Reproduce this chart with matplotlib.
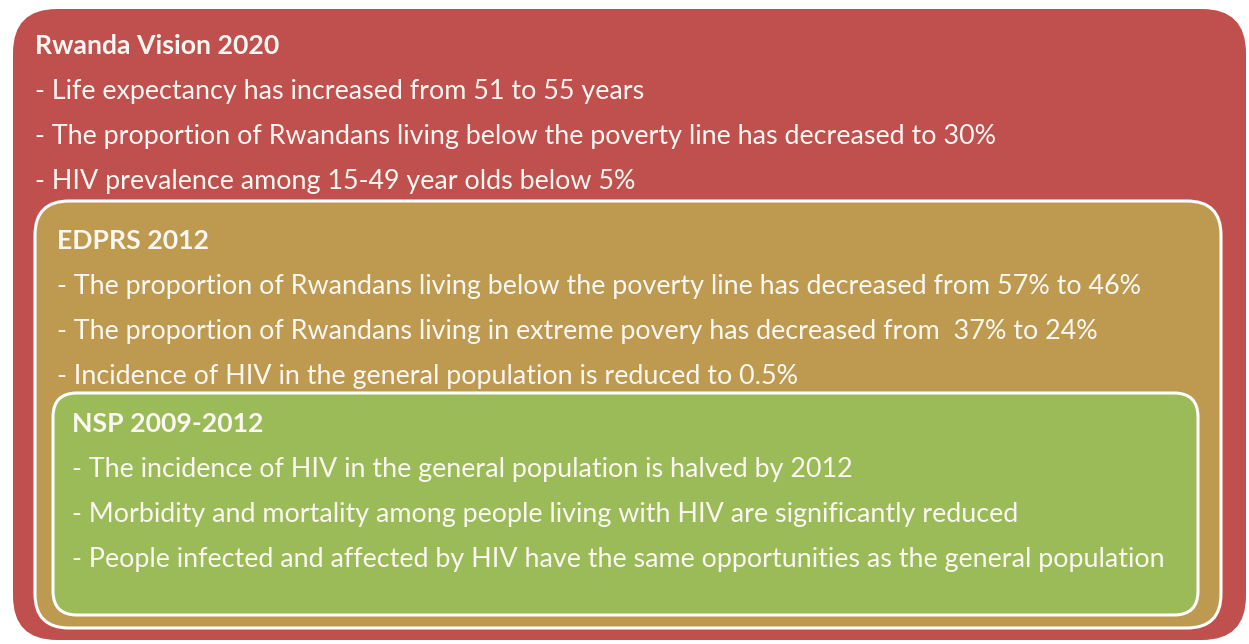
import matplotlib.pyplot as plt
from matplotlib.patches import FancyBboxPatch

# Text content of the three nested goal boxes
vision_title = "Rwanda Vision 2020"
vision_lines = [
    "- Life expectancy has increased from 51 to 55 years",
    "- The proportion of Rwandans living below the poverty line has decreased to 30%",
    "- HIV prevalence among 15-49 year olds below 5%",
]
edprs_title = "EDPRS 2012"
edprs_lines = [
    "- The proportion of Rwandans living below the poverty line has decreased from 57% to 46%",
    "- The proportion of Rwandans living in extreme povery has decreased from  37% to 24%",
    "- Incidence of HIV in the general population is reduced to 0.5%",
]
nsp_title = "NSP 2009-2012"
nsp_lines = [
    "- The incidence of HIV in the general population is halved by 2012",
    "- Morbidity and mortality among people living with HIV are significantly reduced",
    "- People infected and affected by HIV have the same opportunities as the general population",
]

W, H = 1249, 644
fig = plt.figure(figsize=(W / 100, H / 100), dpi=100)
ax = fig.add_axes([0, 0, 1, 1])
ax.set_xlim(0, W)
ax.set_ylim(H, 0)
ax.axis('off')

FONT = 'Lato'
TXT = '#FBF7F2'
BODY_SIZE = 19.4
TITLE_SIZE = 19.2
STEP = 45.3


def box(x0, y0, x1, y1, r, color, edge=None, lw=0):
    p = FancyBboxPatch((x0 + r, y0 + r), (x1 - x0) - 2 * r, (y1 - y0) - 2 * r,
                       boxstyle=f"round,pad={r},rounding_size={r}",
                       facecolor=color, edgecolor=edge if edge else color,
                       linewidth=lw)
    ax.add_patch(p)


def block(x, y, title, lines):
    ax.text(x, y, title, color=TXT, fontsize=TITLE_SIZE, fontweight='bold',
            family=FONT, va='center', ha='left')
    for i, line in enumerate(lines):
        ax.text(x, y + STEP * (i + 1), line, color=TXT, fontsize=BODY_SIZE,
                family=FONT, va='center', ha='left')


box(13, 9, 1246, 640, 44, '#C0504D')
box(35, 201, 1221, 628, 34, '#BD9A50', edge='white', lw=2.2)
box(53, 393, 1198, 615, 24, '#9BBB59', edge='white', lw=2.2)

block(35, 46, vision_title, vision_lines)
block(57, 241, edprs_title, edprs_lines)
block(72, 424, nsp_title, nsp_lines)

fig.savefig('out.png', dpi=100, facecolor='white')
